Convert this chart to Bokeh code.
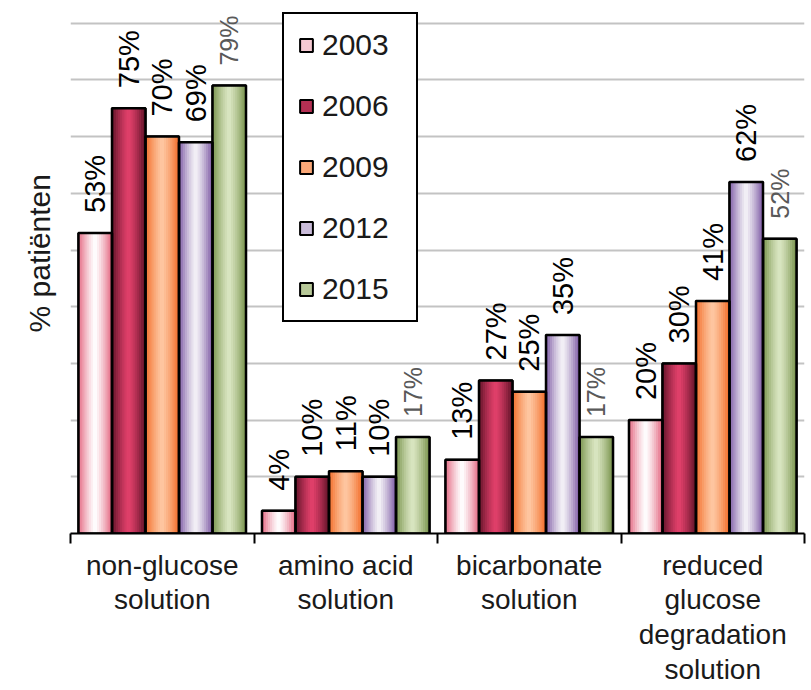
import numpy as np
from bokeh.plotting import figure
from bokeh.models import (ColumnDataSource, Range1d, LinearAxis, FixedTicker,
                          Grid, Legend, LegendItem, Title)
from bokeh.transform import dodge
from bokeh.core.properties import value
from bokeh.embed import file_html
from bokeh.resources import INLINE

# ---------------- data ----------------
categories = ["non-glucose solution", "amino acid solution",
              "bicarbonate solution", "reduced glucose degradation solution"]
category_labels = ["non-glucose\nsolution", "amino acid\nsolution",
                   "bicarbonate\nsolution", "reduced\nglucose\ndegradation\nsolution"]
years = ["2003", "2006", "2009", "2012", "2015"]
values_2003 = [53, 4, 13, 20]
values_2006 = [75, 10, 27, 30]
values_2009 = [70, 11, 25, 41]
values_2012 = [69, 10, 35, 62]
values_2015 = [79, 17, 17, 52]
series = [values_2003, values_2006, values_2009, values_2012, values_2015]
grid_ticks = [10, 20, 30, 40, 50, 60, 70, 80, 90]
y_label = "% patiënten"

# ---------------- styles ----------------
edge_colors = ["#e3647f", "#5e1227", "#f26a26", "#7b57a3", "#76914a"]
center_colors = ["#ffffff", "#e2406b", "#fec8a2", "#f4f2f7", "#dae6c2"]
label_colors = ["#000000", "#000000", "#000000", "#000000", "#595959"]
label_sizes = ["29px", "29px", "29px", "29px", "25px"]
FONT_NAME = "Liberation Sans"
FONT = value(FONT_NAME)


def hx(c):
    c = c.lstrip("#")
    return np.array([int(c[i:i + 2], 16) for i in (0, 2, 4)], dtype=float)


def lerp(c1, c2, t):
    a, b = hx(c1), hx(c2)
    r = a + (b - a) * t
    return "#%02x%02x%02x" % tuple(int(round(v)) for v in r)


W, H = 806, 690
grid90_px, base_px = 22.7, 533.0
y_end = 90 * base_px / (base_px - grid90_px)
ncat = len(categories)
cat_pos = [i + 0.5 for i in range(ncat)]   # centre of each category slot

p = figure(width=W, height=H, x_range=Range1d(0, ncat), y_range=Range1d(0, y_end),
           x_axis_location=None, y_axis_location=None,
           output_backend="svg", toolbar_location=None,
           min_border_left=70, min_border_right=2, min_border_top=0,
           min_border_bottom=int(H - base_px))
p.outline_line_color = None
p.background_fill_color = "white"
p.border_fill_color = "white"
for g in p.xgrid + p.ygrid:
    g.visible = False

p.add_layout(Grid(dimension=1, ticker=FixedTicker(ticks=grid_ticks),
                  grid_line_color="#c3c3c3", grid_line_width=2))

bw = 0.1826
n = len(years)
offsets = [(j - (n - 1) / 2) * bw for j in range(n)]
sources = []
for j, yr in enumerate(years):
    sources.append(ColumnDataSource(dict(cat=categories, xc=cat_pos, val=series[j],
                                         lab=[f"{v}%" for v in series[j]])))

# base bars (also legend glyphs)
base_renderers = []
for j in range(n):
    r = p.vbar(x=dodge("xc", offsets[j]), top="val", width=bw,
               source=sources[j], fill_color=lerp(center_colors[j], edge_colors[j], 0.35),
               line_color="black", line_width=2)
    base_renderers.append(r)

# gradient strips
NS = 16
for j in range(n):
    for k in range(NS):
        u = (k + 0.5) / NS
        t = abs(2 * (u - 0.5)) ** 1.3
        col = lerp(center_colors[j], edge_colors[j], t)
        p.vbar(x=dodge("xc", offsets[j] + (u - 0.5) * bw), top="val",
               width=bw / NS * 1.25, source=sources[j], fill_color=col, line_color=None)

# outlines
for j in range(n):
    p.vbar(x=dodge("xc", offsets[j]), top="val", width=bw,
           source=sources[j], fill_color=None, line_color="black", line_width=2.5)

# value labels
for j in range(n):
    p.text(x=dodge("xc", offsets[j]), y="val", text="lab", source=sources[j],
           angle=np.pi / 2, text_align="left", text_baseline="middle", y_offset=-20,
           text_font=FONT, text_font_size=label_sizes[j], text_color=label_colors[j])

# x axis line with ticks at the category boundaries (no labels)
boundaries = list(range(ncat + 1))
ax = LinearAxis(ticker=FixedTicker(ticks=boundaries),
                major_label_overrides={b: "" for b in boundaries},
                axis_line_color="black", axis_line_width=2,
                major_tick_line_color="black", major_tick_line_width=2,
                major_tick_in=0, major_tick_out=10, minor_tick_line_color=None,
                major_label_text_font_size="1px", major_label_standoff=0)
p.add_layout(ax, "below")

# category labels (second axis, no line / ticks)
lab_ax = LinearAxis(ticker=FixedTicker(ticks=cat_pos),
                    major_label_overrides={pos: lab for pos, lab in zip(cat_pos, category_labels)},
                    axis_line_color=None, major_tick_line_color=None, minor_tick_line_color=None,
                    major_tick_in=0, major_tick_out=0, major_label_standoff=6,
                    major_label_text_font=FONT_NAME, major_label_text_font_size="28px",
                    major_label_text_color="#1a1a1a", major_label_text_line_height=1.125)
p.add_layout(lab_ax, "below")

# y axis title
p.add_layout(Title(text=y_label, align="left", offset=201, standoff=29,
                   text_font=FONT_NAME, text_font_size="30px", text_font_style="normal",
                   text_color="#1a1a1a"), "left")

legend = Legend(items=[LegendItem(label=yr, renderers=[base_renderers[j]]) for j, yr in enumerate(years)],
                location=(212, 211), orientation="vertical",
                border_line_color="black", border_line_width=2, border_line_alpha=1,
                padding=14, spacing=27,
                glyph_width=16, glyph_height=16, label_standoff=8, label_width=80,
                label_text_font=FONT_NAME, label_text_font_size="30px", label_text_color="#1a1a1a",
                margin=0, background_fill_color="white", background_fill_alpha=1)
p.add_layout(legend, "center")

open("out.html", "w").write(file_html(p, INLINE))
